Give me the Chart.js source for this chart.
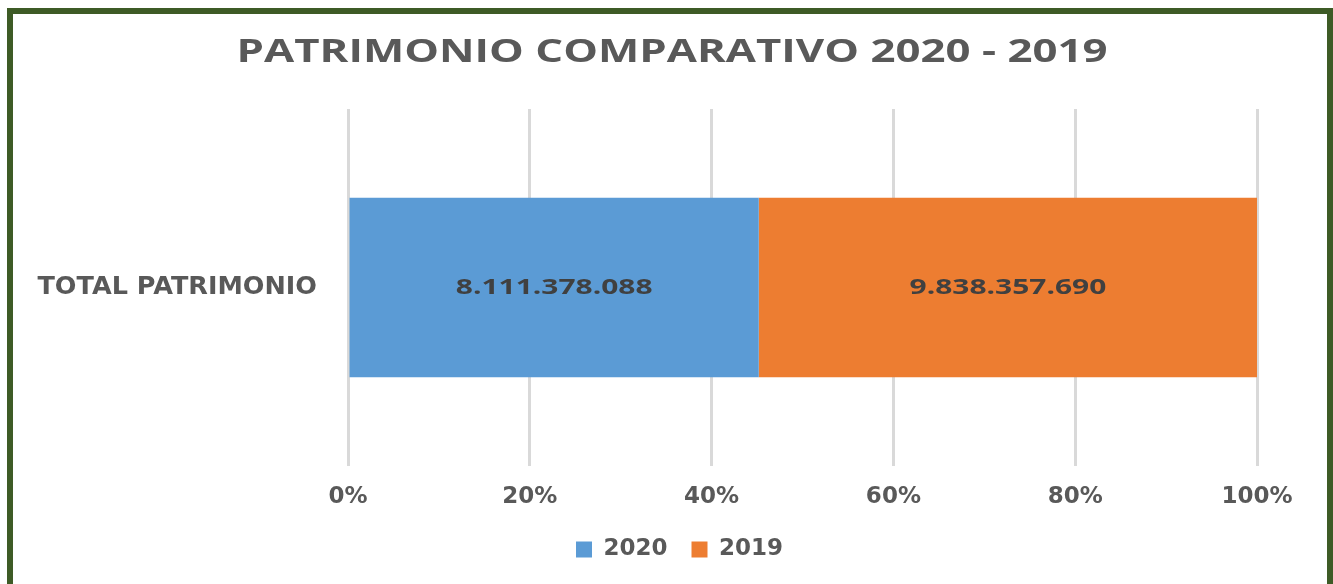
<!DOCTYPE html>
<html>
<head>
<meta charset="utf-8">
<script src="https://cdn.jsdelivr.net/npm/chart.js@4.4.1/dist/chart.umd.min.js"></script>
<style>
  html, body { margin: 0; padding: 0; background: #fff; }
  #marco { position: absolute; left: 0; top: 0; width: 1333px; height: 584px; }
  #borde {
    position: absolute; left: 7px; top: 8px; width: 1314px; height: 600px;
    border: 6px solid #3e5b26; border-bottom: none; pointer-events: none;
  }
</style>
</head>
<body>
<div id="marco"><canvas id="grafica" width="1333" height="584"></canvas></div>
<div id="borde"></div>
<script>
const titulo = 'PATRIMONIO COMPARATIVO 2020 - 2019';
const categorias = ['TOTAL PATRIMONIO'];
const series = ['2020', '2019'];
const valores2020 = [8111378088];
const valores2019 = [9838357690];
const ticksX = [0, 20, 40, 60, 80, 100];
const colores = ['#5b9bd5', '#ed7d31'];

const FUENTE = "'Open Sans', sans-serif";
const FUENTE_EJES = "'DejaVu Sans', sans-serif";
const GRIS = '#595959';

const totales = categorias.map((_, i) => valores2020[i] + valores2019[i]);
const brutos = [valores2020, valores2019];

const formatear = (n) => String(n).replace(/\B(?=(\d{3})+(?!\d))/g, '.');

// texto ensanchado en horizontal, como en la imagen original
const textoAncho = (ctx, texto, x, y, escala) => {
    ctx.save();
    ctx.translate(x, y);
    ctx.scale(escala, 1);
    ctx.fillText(texto, 0, 0);
    ctx.restore();
};

const tituloAncho = {
    id: 'tituloAncho',
    afterDraw(chart) {
        const ctx = chart.ctx;
        ctx.save();
        ctx.font = `bold 32px ${FUENTE}`;
        ctx.fillStyle = GRIS;
        ctx.textAlign = 'center';
        ctx.textBaseline = 'middle';
        const ancho = ctx.measureText(titulo).width;
        textoAncho(ctx, titulo, 672, 53, 871 / ancho);
        ctx.restore();
    }
};

const etiquetasBarras = {
    id: 'etiquetasBarras',
    afterDatasetsDraw(chart) {
        const ctx = chart.ctx;
        ctx.save();
        ctx.font = `bold 20.5px ${FUENTE}`;
        ctx.fillStyle = '#404040';
        ctx.textAlign = 'center';
        ctx.textBaseline = 'middle';
        chart.data.datasets.forEach((ds, d) => {
            chart.getDatasetMeta(d).data.forEach((el, i) => {
                const p = el.getCenterPoint();
                textoAncho(ctx, formatear(brutos[d][i]), p.x, p.y + 1, 1.46);
            });
        });
        ctx.restore();
    }
};

// la leyenda va centrada un poco a la derecha, como en el original
const moverLeyenda = {
    id: 'moverLeyenda',
    beforeDraw(chart) {
        if (chart.legend) chart.legend.left = 102;
    }
};

new Chart(document.getElementById('grafica'), {
    type: 'bar',
    data: {
        labels: categorias,
        datasets: series.map((s, d) => ({
            label: s,
            data: brutos[d].map((v, i) => v / totales[i] * 100),
            backgroundColor: colores[d],
            borderWidth: 0,
            categoryPercentage: 1,
            barPercentage: 0.503
        }))
    },
    options: {
        indexAxis: 'y',
        responsive: false,
        animation: false,
        layout: { padding: { left: 0, right: 76, top: 109, bottom: 13 } },
        plugins: {
            title: { display: false },
            legend: {
                position: 'bottom',
                labels: {
                    color: GRIS,
                    font: { family: FUENTE_EJES, size: 23, weight: 'bold' },
                    boxWidth: 16, boxHeight: 16, padding: 24
                }
            },
            tooltip: { enabled: false }
        },
        scales: {
            x: {
                stacked: true,
                min: 0, max: 100,
                afterBuildTicks: (s) => { s.ticks = ticksX.map(v => ({ value: v })); },
                afterFit: (s) => { s.height = 48; },
                ticks: {
                    color: GRIS,
                    font: { family: FUENTE_EJES, size: 23, weight: 'bold' },
                    padding: 17,
                    callback: (v) => v + '%'
                },
                grid: { color: '#d9d9d9', lineWidth: 3, drawTicks: false },
                border: { display: false }
            },
            y: {
                stacked: true,
                afterFit: (s) => { s.width = 348; },
                ticks: {
                    color: GRIS,
                    font: { family: FUENTE_EJES, size: 25.5, weight: 'bold' },
                    padding: 31
                },
                grid: { display: false, drawTicks: false },
                border: { display: false }
            }
        }
    },
    plugins: [etiquetasBarras, tituloAncho, moverLeyenda]
});
</script>
</body>
</html>
